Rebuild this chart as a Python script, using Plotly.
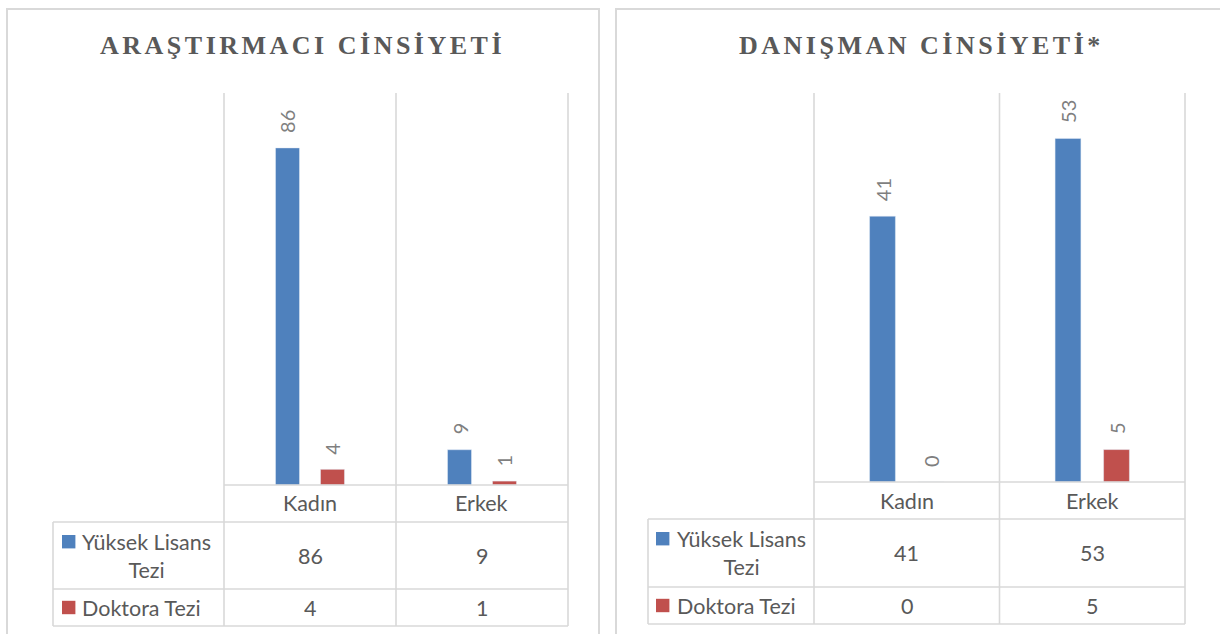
import plotly.graph_objects as go

# ---- data -------------------------------------------------------------
categories = ["Kadın", "Erkek"]
series_names = ["Yüksek Lisans<br>Tezi", "Doktora Tezi"]
titles = ["ARAŞTIRMACI CİNSİYETİ", "DANIŞMAN CİNSİYETİ*"]

arastirmaci_yuksek_lisans = [86, 9]
arastirmaci_doktora = [4, 1]
danisman_yuksek_lisans = [41, 53]
danisman_doktora = [0, 5]

y_max = [100, 60]

# ---- styling ----------------------------------------------------------
W, H = 1220, 634
BLUE = "#4f81bd"
RED = "#c0504d"
GRID = "#d9d9d9"
TEXT = "#595959"
LABEL = "#7f7f7f"
SANS = "Lato"
SERIF = "Liberation Serif"
TABLE_SIZE = 21.5
BARGAP = 0.477
GROUPGAP = 0.467

# pixel layout of each panel (chart frame, plot area, data table)
panels = [
    dict(frame=(7, 599), plot_x=(224, 568), plot_y=(93, 485),
         rows=(522, 589, 626), table_left=53, sq_x=62, txt_x=80,
         title_x=302),
    dict(frame=(616, 1240), plot_x=(814, 1185), plot_y=(93, 482),
         rows=(519, 587, 624), table_left=648, sq_x=656, txt_x=675,
         title_x=921),
]
series = [
    (arastirmaci_yuksek_lisans, arastirmaci_doktora),
    (danisman_yuksek_lisans, danisman_doktora),
]


def px(x):
    return x / W


def py(y):
    return 1 - y / H


fig = go.Figure()
shapes = []
annotations = []


def hline(x0, x1, y, width=1.6):
    shapes.append(dict(type="line", xref="paper", yref="paper",
                       x0=px(x0), x1=px(x1), y0=py(y), y1=py(y),
                       line=dict(color=GRID, width=width)))


def vline(x, y0, y1, width=1.6):
    shapes.append(dict(type="line", xref="paper", yref="paper",
                       x0=px(x), x1=px(x), y0=py(y0), y1=py(y1),
                       line=dict(color=GRID, width=width)))


def text(x, y, s, size=TABLE_SIZE, color=TEXT, xanchor="center",
         family=SANS, **kw):
    annotations.append(dict(xref="paper", yref="paper", x=px(x), y=py(y),
                            text=s, showarrow=False, xanchor=xanchor,
                            yanchor="middle",
                            font=dict(family=family, size=size, color=color),
                            **kw))


offset = (1 - BARGAP) / 4  # half a bar slot, in category units

for k, (p, (yl, dr)) in enumerate(zip(panels, series)):
    xa = "x" if k == 0 else "x2"
    ya = "y" if k == 0 else "y2"
    x_idx = list(range(len(categories)))

    fig.add_trace(go.Bar(x=x_idx, y=yl, marker_color=BLUE, xaxis=xa,
                         yaxis=ya, name=series_names[0], showlegend=False))
    fig.add_trace(go.Bar(x=x_idx, y=dr, marker_color=RED, xaxis=xa,
                         yaxis=ya, name=series_names[1], showlegend=False))

    # rotated value labels above each bar
    for vals, sgn in ((yl, -1), (dr, 1)):
        for i, v in enumerate(vals):
            annotations.append(dict(
                xref=xa, yref=ya, x=i + sgn * offset, y=v, text=str(v),
                showarrow=False, textangle=-90, xanchor="center",
                yanchor="bottom", yshift=13,
                font=dict(family=SANS, size=20, color=LABEL)))

    axis_common = dict(showgrid=False, zeroline=False, showticklabels=False,
                       ticks="", showline=False, fixedrange=True)
    fig.update_layout(**{
        ("xaxis" if k == 0 else "xaxis2"): dict(
            domain=[px(p["plot_x"][0]), px(p["plot_x"][1])],
            range=[-0.5, len(categories) - 0.5], anchor=ya, **axis_common),
        ("yaxis" if k == 0 else "yaxis2"): dict(
            domain=[py(p["plot_y"][1]), py(p["plot_y"][0])],
            range=[0, y_max[k]], anchor=xa, **axis_common),
    })

    # chart frame
    f0, f1 = p["frame"]
    shapes.append(dict(type="rect", xref="paper", yref="paper",
                       x0=px(f0), x1=px(f1), y0=py(660), y1=py(9),
                       line=dict(color=GRID, width=2)))

    # title
    text(p["title_x"], 46,
         '<span style="letter-spacing:3.5px">' + titles[k] + "</span>",
         size=26, family=SERIF, color=TEXT)
    annotations[-1]["font"]["weight"] = "bold"

    # data table grid
    x0, x1 = p["plot_x"]
    top, base = p["plot_y"]
    r1, r2, r3 = p["rows"]
    ncat = len(categories)
    col_w = (x1 - x0) / ncat
    for c in range(ncat + 1):
        vline(x0 + c * col_w, top, r3)
    vline(p["table_left"], r1, r3)
    hline(x0, x1, base)
    for r in (r1, r2, r3):
        hline(p["table_left"], x1, r)

    # category row and value cells
    for c, cat in enumerate(categories):
        cx = x0 + (c + 0.5) * col_w
        text(cx, (base + r1) / 2, cat)
        text(cx, (r1 + r2) / 2, str(yl[c]))
        text(cx, (r2 + r3) / 2, str(dr[c]))

    # legend keys in the table
    sq = 13.4
    for (ry0, ry1), color in (((r1, r2), BLUE), ((r2, r3), RED)):
        cy = (ry0 + 13 + sq / 2) if color == BLUE else (ry0 + ry1) / 2
        shapes.append(dict(type="rect", xref="paper", yref="paper",
                           x0=px(p["sq_x"]), x1=px(p["sq_x"] + sq),
                           y0=py(cy + sq / 2), y1=py(cy - sq / 2),
                           fillcolor=color, line=dict(width=0)))
    text(p["txt_x"], (r1 + r2) / 2, series_names[0], xanchor="left",
         align="center")
    text(p["txt_x"], (r2 + r3) / 2, series_names[1], xanchor="left")

fig.update_layout(
    width=W, height=H,
    margin=dict(l=0, r=0, t=0, b=0),
    paper_bgcolor="white", plot_bgcolor="white",
    barmode="group", bargap=BARGAP, bargroupgap=GROUPGAP,
    shapes=shapes, annotations=annotations,
    showlegend=False,
)

fig.write_html("out.html")
